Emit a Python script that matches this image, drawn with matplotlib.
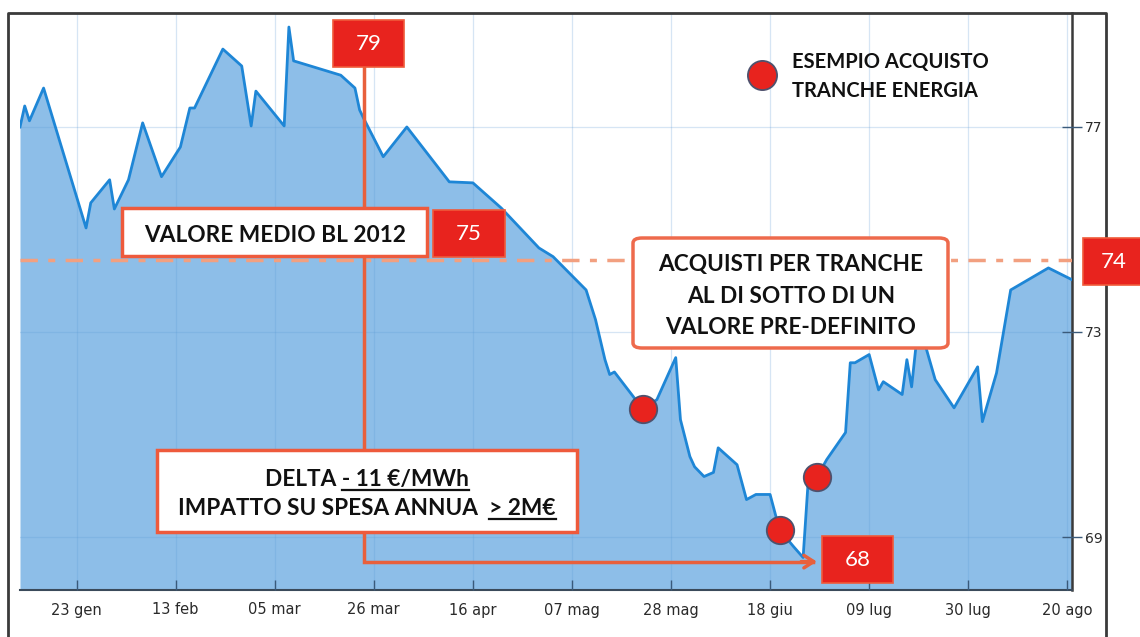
import matplotlib
matplotlib.use("Agg")
import matplotlib.pyplot as plt
from matplotlib.patches import Rectangle, FancyBboxPatch
from matplotlib.lines import Line2D
import pandas as pd

# prezzo BL 2012
date_str = [
    "2012-01-11", "2012-01-12", "2012-01-13", "2012-01-16", "2012-01-25", "2012-01-26", "2012-01-30", "2012-01-31",
    "2012-02-03", "2012-02-06", "2012-02-10", "2012-02-14", "2012-02-16", "2012-02-17", "2012-02-23", "2012-02-27",
    "2012-02-29", "2012-03-01", "2012-03-07", "2012-03-08", "2012-03-09", "2012-03-19", "2012-03-22", "2012-03-23",
    "2012-03-24", "2012-03-28", "2012-04-02", "2012-04-11", "2012-04-16", "2012-04-22", "2012-04-30", "2012-05-03",
    "2012-05-10", "2012-05-12", "2012-05-14", "2012-05-15", "2012-05-16", "2012-05-20", "2012-05-22", "2012-05-25",
    "2012-05-29", "2012-05-30", "2012-06-01", "2012-06-02", "2012-06-04", "2012-06-06", "2012-06-07", "2012-06-11",
    "2012-06-13", "2012-06-15", "2012-06-18", "2012-06-20", "2012-06-23", "2012-06-25", "2012-06-26", "2012-06-28",
    "2012-06-30", "2012-07-04", "2012-07-05", "2012-07-06", "2012-07-09", "2012-07-11", "2012-07-12", "2012-07-16",
    "2012-07-17", "2012-07-18", "2012-07-19", "2012-07-21", "2012-07-23", "2012-07-27", "2012-08-01", "2012-08-02",
    "2012-08-05", "2012-08-08", "2012-08-16", "2012-08-21"]
prezzi = [
    77.0, 77.41, 77.12, 77.76, 75.03, 75.52, 75.97, 75.40,
    75.97, 77.08, 76.03, 76.61, 77.37, 77.37, 78.52, 78.19,
    77.02, 77.70, 77.02, 78.95, 78.29, 78.01, 77.76, 77.33,
    77.14, 76.42, 77.00, 75.93, 75.91, 75.42, 74.64, 74.47,
    73.82, 73.24, 72.46, 72.17, 72.22, 71.74, 71.50, 71.68,
    72.50, 71.29, 70.57, 70.37, 70.18, 70.26, 70.74, 70.41,
    69.73, 69.83, 69.83, 69.14, 68.81, 68.60, 69.98, 70.18,
    70.51, 71.04, 72.40, 72.40, 72.56, 71.87, 72.03, 71.78,
    72.46, 71.93, 72.79, 72.71, 72.07, 71.52, 72.32, 71.25,
    72.20, 73.82, 74.25, 74.02]

acquisti_date = ["2012-05-22", "2012-06-20", "2012-06-28"]
acquisti_valori = [71.50, 69.14, 70.18]

tick_date = ["2012-01-23", "2012-02-13", "2012-03-05", "2012-03-26", "2012-04-16", "2012-05-07",
             "2012-05-28", "2012-06-18", "2012-07-09", "2012-07-30", "2012-08-20"]
tick_labels = ["23 gen", "13 feb", "05 mar", "26 mar", "16 apr", "07 mag",
               "28 mag", "18 giu", "09 lug", "30 lug", "20 ago"]
y_ticks = [69, 73, 77]

livello_soglia = 74.4
data_max = "2012-03-24"
data_min = "2012-06-28"
freccia_top = 78.2
freccia_y = 68.52

W, H = 1140, 637
FONT = ["Lato", "DejaVu Sans"]
SIZE = 16.3

def fx(x):
    return x / W

def fy(y):
    return 1 - y / H

fig = plt.figure(figsize=(W / 100, H / 100), dpi=100)
ax = fig.add_axes([fx(20), fy(590), (1072 - 20) / W, (590 - 13) / H])

d = pd.to_datetime(date_str)
ymin, ymax = 67.966, 79.224
ax.fill_between(d, prezzi, ymin, color="#8DBEE8", lw=0, zorder=1)
ax.plot(d, prezzi, color="#1E86D6", lw=2, zorder=3)

ax.set_xlim(pd.Timestamp("2012-01-11"), pd.Timestamp("2012-08-21"))
ax.set_ylim(ymin, ymax)
ax.set_xticks(pd.to_datetime(tick_date))
ax.set_xticklabels(tick_labels)
ax.set_yticks(y_ticks)
ax.yaxis.tick_right()
ax.grid(True, color="#5C9BD5", alpha=0.25, lw=0.9, zorder=2)
ax.set_axisbelow(False)
ax.tick_params(axis="x", direction="in", length=7, width=1, color="#3a5a7a", pad=9,
               labelsize=10.5, labelcolor="#2a2a2a")
ax.tick_params(axis="y", direction="inout", length=14, width=1, color="#3a5a7a", pad=2,
               labelsize=10, labelcolor="#2a2a2a")
for s in ["left", "top"]:
    ax.spines[s].set_visible(False)
ax.spines["right"].set_color("#3a3a3a")
ax.spines["right"].set_linewidth(1.8)
ax.spines["bottom"].set_color("#3a4a5a")
ax.spines["bottom"].set_linewidth(1.5)

# linea del valore soglia
ax.axhline(livello_soglia, color="#F2A080", lw=2.5, ls=(0, (5, 3, 2, 3)), zorder=4)

# linea massimo -> minimo
xm = pd.Timestamp(data_max)
xn = pd.Timestamp(data_min)
ax.plot([xm, xm, xn - pd.Timedelta(days=1)], [freccia_top, freccia_y, freccia_y],
        color="#E8603C", lw=2.5, zorder=5, solid_joinstyle="miter")
ax.annotate("", xy=(xn + pd.Timedelta(days=0.5), freccia_y), xytext=(xn - pd.Timedelta(days=4), freccia_y),
            arrowprops=dict(arrowstyle="->,head_length=0.7,head_width=0.45", color="#E8603C", lw=2.5),
            zorder=5)

# punti di acquisto
ax.scatter(pd.to_datetime(acquisti_date), acquisti_valori, s=390, color="#E8231E",
           edgecolor="#4E526E", lw=1.3, zorder=6)

# legenda
ax.plot([(762 - 20) / 1052], [(590 - 75) / 577], "o", ms=21, color="#E8231E",
        mec="#4E526E", mew=1.3, transform=ax.transAxes, clip_on=False, zorder=6)
fig.text(fx(792), fy(68), "ESEMPIO ACQUISTO", fontsize=14.5, fontweight="bold",
         family=FONT, va="baseline", color="#111111")
fig.text(fx(792), fy(97), "TRANCHE ENERGIA", fontsize=14.5, fontweight="bold",
         family=FONT, va="baseline", color="#111111")


def box(x0, y0, x1, y1, face, edge, lw, rounded=False):
    if rounded:
        p = FancyBboxPatch((fx(x0), fy(y1)), (x1 - x0) / W, (y1 - y0) / H,
                           boxstyle="round,pad=0,rounding_size=0.008",
                           facecolor=face, edgecolor=edge, lw=lw, transform=fig.transFigure, zorder=7)
    else:
        p = Rectangle((fx(x0), fy(y1)), (x1 - x0) / W, (y1 - y0) / H,
                      facecolor=face, edgecolor=edge, lw=lw, transform=fig.transFigure, zorder=7)
    fig.add_artist(p)


def etichetta_rossa(x0, y0, x1, y1, testo):
    box(x0, y0, x1, y1, "#E8231E", "#F05A3A", 1.2)
    fig.text(fx((x0 + x1) / 2), fy((y0 + y1) / 2), testo, ha="center", va="center",
             fontsize=16, color="white", family=FONT, zorder=8)


etichetta_rossa(333, 20, 404, 67, "79")
etichetta_rossa(433, 210, 505, 257, "75")
etichetta_rossa(822, 536, 893, 583, "68")
etichetta_rossa(1083, 238, 1145, 285, "74")

box(122, 208, 427, 256, "white", "#EE5A3C", 2.5)
fig.text(fx(275), fy(242), "VALORE MEDIO BL 2012", ha="center", va="baseline",
         fontsize=SIZE, fontweight="bold", family=FONT, color="#111111", zorder=8)

box(633, 238, 948, 348, "white", "#EE6A4C", 2.5, rounded=True)
for testo, yb in [("ACQUISTI PER TRANCHE", 271), ("AL DI SOTTO DI UN", 303),
                  ("VALORE PRE-DEFINITO", 334)]:
    fig.text(fx(791), fy(yb), testo, ha="center", va="baseline", fontsize=SIZE,
             fontweight="bold", family=FONT, color="#111111", zorder=8)

box(157, 450, 577, 532, "white", "#EE5A3C", 2.5)

renderer = fig.canvas.get_renderer()


def larghezza(s, size):
    a = fig.text(0, 0, "|" + s + "|", fontsize=size, fontweight="bold", family=FONT)
    b = fig.text(0, 0, "||", fontsize=size, fontweight="bold", family=FONT)
    w = a.get_window_extent(renderer).width - b.get_window_extent(renderer).width
    a.remove()
    b.remove()
    return w


def riga(pezzi, xc, yb, size):
    full = "".join(p for p, _ in pezzi)
    fig.text(fx(xc), fy(yb), full, ha="center", va="baseline", fontsize=size,
             fontweight="bold", family=FONT, color="#111111", zorder=8)
    left = xc - larghezza(full, size) / 2
    pref = ""
    for p, u in pezzi:
        if u:
            x0 = left + larghezza(pref, size)
            x1 = left + larghezza(pref + p, size)
            fig.add_artist(Line2D([fx(x0), fx(x1)], [fy(yb + 4), fy(yb + 4)], color="#111111",
                                  lw=1.6, transform=fig.transFigure, zorder=8))
        pref += p


riga([("DELTA ", False), ("- 11 €/MWh", True)], 367, 486, SIZE)
riga([("IMPATTO SU SPESA ANNUA  ", False), ("> 2M€", True)], 367, 515, SIZE)

# cornice esterna
fig.add_artist(Line2D([fx(8), fx(8), fx(1106), fx(1106)], [0, fy(13), fy(13), 0],
                      color="#3a3a3a", lw=2, transform=fig.transFigure))

fig.savefig("out.png", dpi=100)
